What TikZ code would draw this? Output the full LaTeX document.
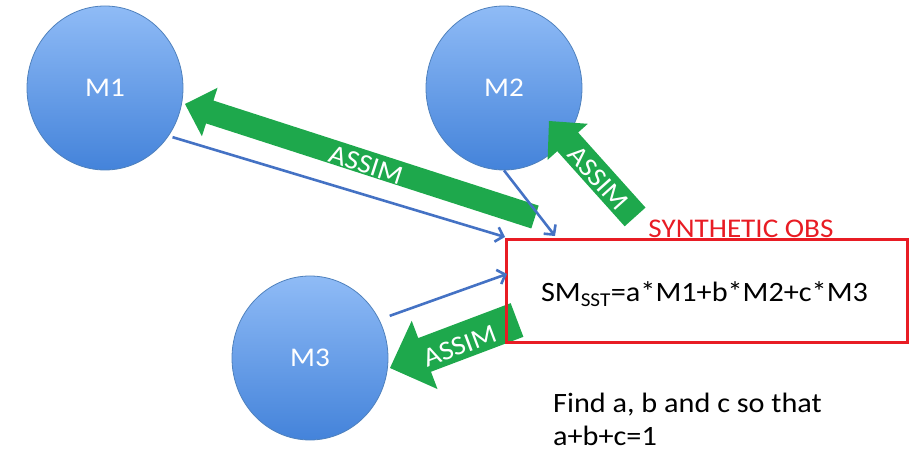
\documentclass[tikz,border=0pt]{standalone}
\usepackage{fontspec}
\setmainfont{Carlito}[FakeStretch=1.08]
\usetikzlibrary{shapes.geometric,arrows.meta}

\definecolor{ballTop}{RGB}{143,187,246}
\definecolor{ballBot}{RGB}{68,131,218}
\definecolor{ballEdge}{RGB}{79,129,189}
\definecolor{linkBlue}{RGB}{68,114,196}
\definecolor{assimGreen}{RGB}{30,168,76}
\definecolor{obsRed}{RGB}{232,28,36}

% block arrow: tip point, direction (deg), length, shaft half width, head half width, head length
\newcommand\blockarrow[6]{%
  \begin{scope}[shift={#1}, rotate=#2]
    \fill[assimGreen] (0,0) -- (-#6,#5) -- (-#6,#4) -- (-#3,#4)
      -- (-#3,-#4) -- (-#6,-#4) -- (-#6,-#5) -- cycle;
  \end{scope}}

\tikzset{
  model/.style={ellipse, minimum width=156pt, minimum height=164pt, inner sep=0pt,
    top color=ballTop, bottom color=ballBot, draw=ballEdge, line width=0.8pt,
    text=white, font=\fontsize{27}{30}\selectfont},
  link/.style={draw=linkBlue, line width=2.6pt,
    -{Straight Barb[length=7pt,width=15pt,line width=2.6pt]}},
  assimlabel/.style={text=white, inner sep=0pt, font=\fontsize{27}{30}\selectfont},
  obsbox/.style={draw=obsRed, line width=3pt, minimum width=401pt, minimum height=103pt, inner sep=0pt},
}

\begin{document}
\begin{tikzpicture}[x=1pt,y=-1pt]
\useasboundingbox (0,0) rectangle (914,449);

% model spheres
\node[model] (M1) at (105,88) {M1};
\node[model] (M2) at (504,88) {M2};
\node[model] (M3) at (310,358) {M3};

% assimilation arrows
\blockarrow{(185,104)}{162.1}{367.8}{12}{25.5}{26}
\blockarrow{(549,121)}{131.9}{128.9}{14}{27}{28}
\blockarrow{(390,368)}{200.7}{135.8}{18}{36.5}{37}
\node[assimlabel, rotate=-17.9] (a1) at (366,165) {ASSIM};
\node[assimlabel, rotate=-48.1] (a2) at (598,178) {ASSIM};
\node[assimlabel, rotate=20.7] (a3) at (460,346) {ASSIM};

% synthetic observation box
\node[obsbox] (B) at (706.5,291.5) {};
\node[anchor=base, text=obsRed, inner sep=0pt, font=\fontsize{27}{30}\selectfont] (obs) at (741,238) {SYNTHETIC OBS};
\node[anchor=base, inner sep=0pt, font=\fontsize{28}{32}\selectfont] (sm) at (704.5,302)
  {SM\textsubscript{SST}=a*M1+b*M2+c*M3};

% model outputs feeding the box
\coordinate (e1) at (505,237);
\coordinate (e2) at (555,236);
\coordinate (e3) at (507,274);
\draw[link, shorten <=4pt] (M1.-37) -- (e1);
\draw[link] (M2.south) -- (e2);
\draw[link, shorten <=11pt] (M3.29) -- (e3);

% constraint
\node[anchor=base west, inner sep=0pt, font=\fontsize{28}{32}\selectfont] (f1) at (553,413) {Find a, b and c so that};
\node[anchor=base west, inner sep=0pt, font=\fontsize{28}{32}\selectfont] (f2) at (553,446) {a+b+c=1};
\end{tikzpicture}
\end{document}
